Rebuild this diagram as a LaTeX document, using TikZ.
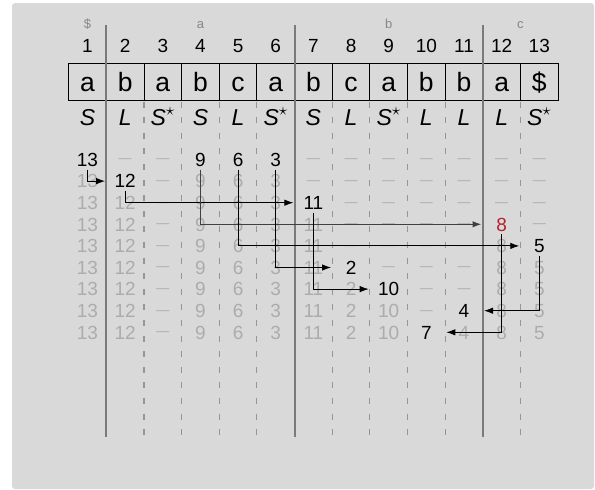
\documentclass[tikz,border=0pt]{standalone}
\usepackage{fontspec}
\setmainfont{Liberation Sans}
\usetikzlibrary{arrows.meta}
\definecolor{bgc}{RGB}{217,217,217}
\definecolor{sepc}{RGB}{122,122,122}
\definecolor{dashc}{RGB}{150,150,150}
\definecolor{fadec}{RGB}{172,172,172}
\definecolor{bktc}{RGB}{135,135,135}
\definecolor{redc}{RGB}{180,35,45}
\newcommand\colx[1]{(87.5+37.65*(#1-1))}
\newcommand\rowy[1]{(159.5+21.6*(#1-1))}
\begin{document}
\begin{tikzpicture}[x=1pt,y=-1pt,
  every node/.style={inner sep=0pt},
  bkt/.style={font=\fontsize{13}{15}\selectfont, text=bktc, anchor=base},
  idx/.style={font=\fontsize{19}{21}\selectfont, anchor=base},
  cellbox/.style={draw, line width=0.9pt, minimum width=37.65pt, minimum height=37.7pt, text height=18.5pt, text depth=0pt, font=\fontsize{26.5}{29}\selectfont},
  typ/.style={font=\fontsize{23}{26}\selectfont\itshape, anchor=base},
  valnode/.style={font=\fontsize{19}{21}\selectfont, minimum width=37.65pt, text height=13.6pt, text depth=0pt},
  faded/.style={valnode, text=fadec},
  dsh/.style={font=\fontsize{13}{15}\selectfont, text=fadec, anchor=base},
  bsep/.style={draw=sepc, line width=2pt},
  dashsep/.style={draw=dashc, line width=1.1pt, dash pattern=on 6pt off 9.6pt},
  arr/.style={draw=black, line width=0.9pt, shorten >=1pt, -{Latex[length=9pt,width=6.5pt]}},
  arrthick/.style={arr, line width=1.5pt, draw=black!75}
]
\useasboundingbox (0,0) rectangle (595,490);
\fill[bgc, rounded corners=3pt] (12,3) rectangle (594,489);

% dashed column separators
\foreach \c in {2,3,4,5,7,8,9,10,12}
  \draw[dashsep] ({\colx{\c}+18.825},101.5) -- ++(0,335.5);

% bucket letters
\node[bkt] (bk1) at ({\colx{1}},28) {\$};
\node[bkt] (bk2) at ({\colx{4}},28) {a};
\node[bkt] (bk3) at ({\colx{9}},28) {b};
\node[bkt] (bk4) at ({(\colx{12}+\colx{13})/2},28) {c};

% indices
\foreach \c in {1,...,13}
  \node[idx] (i\c) at ({\colx{\c}},52) {\c};

% text cells
\foreach \c/\l in {1/a,2/b,3/a,4/b,5/c,6/a,7/b,8/c,9/a,10/b,11/b,12/a,13/\$}
  \node[cellbox] (b\c) at ({\colx{\c}},82) {\l};

% types
\foreach \c/\t in {1/S,2/L,3/S$^{\star}$,4/S,5/L,6/S$^{\star}$,7/S,8/L,9/S$^{\star}$,10/L,11/L,12/L,13/S$^{\star}$}
  \node[typ] (t\c) at ({\colx{\c}},125) {\t};

% solid bucket separators
\foreach \c in {1,6,11}
  \draw[bsep] ({\colx{\c}+18.825},25) -- ({\colx{\c}+18.825},437);

% values
\foreach \c/\f/\v/\vc in {1/1/13/black, 2/2/12/black, 3/10/0/black, 4/1/9/black, 5/1/6/black, 6/1/3/black, 7/3/11/black, 8/6/2/black, 9/7/10/black, 10/9/7/black, 11/8/4/black, 12/4/8/redc, 13/5/5/black}{
  \foreach \r in {1,...,9}{
    \ifnum\r<\f\relax
      \node[dsh] (d\r-\c) at ({\colx{\c}},{\rowy{\r}+3.3}) {—};
    \else\ifnum\r=\f\relax
      \node[valnode, text=\vc] (v\v) at ({\colx{\c}},{\rowy{\r}}) {\v};
    \else
      \node[faded] (g\r-\c) at ({\colx{\c}},{\rowy{\r}}) {\v};
    \fi\fi
  }
}

% arrows
\draw[arr] ([yshift=-3pt]v13.south) |- (v12.west);
\draw[arr] ([yshift=-3pt]v12.south) |- (v11.west);
\draw[arrthick] ([yshift=-3pt]v9.south) |- (v8.west);
\draw[arr] ([yshift=-3pt]v6.south) |- (v5.west);
\draw[arr] ([yshift=-3pt]v3.south) |- (v2.west);
\draw[arr] ([yshift=-3pt]v11.south) |- (v10.west);
\draw[arr] ([yshift=-3pt]v5.south) |- (v4.east);
\draw[arr] ([yshift=-3pt]v8.south) |- (v7.east);
\end{tikzpicture}
\end{document}
